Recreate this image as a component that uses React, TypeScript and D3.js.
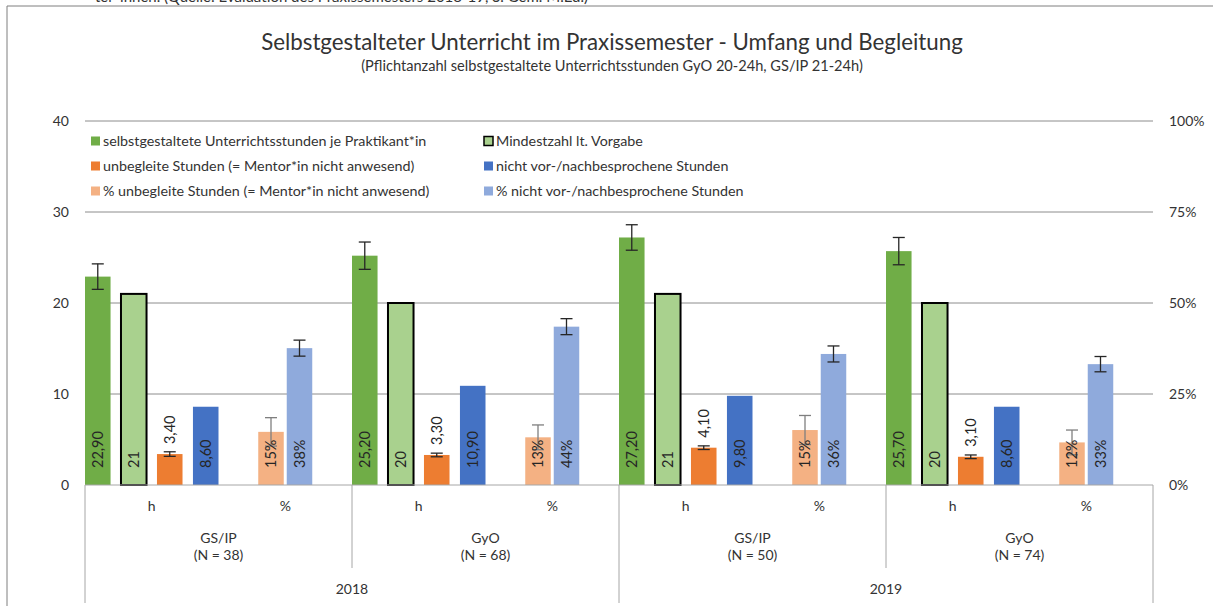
import * as d3 from 'd3';

// categories
const groups = ['GS/IP', 'GyO', 'GS/IP', 'GyO'];
const groupN = ['(N = 38)', '(N = 68)', '(N = 50)', '(N = 74)'];
const years = ['2018', '2019'];
const subCats = ['h', '%'];

// series (hours, left axis)
const stunden = [22.9, 25.2, 27.2, 25.7];
const stundenErr = [1.4, 1.5, 1.4, 1.5];
const mindestzahl = [21, 20, 21, 20];
const unbegleitet = [3.4, 3.3, 4.1, 3.1];
const unbegleitetErr = [0.25, 0.2, 0.2, 0.2];
const nichtBesprochen = [8.6, 10.9, 9.8, 8.6];

// series (share, right axis)
const unbegleitetPct = [0.146, 0.131, 0.151, 0.117];
const unbegleitetPctErr = [0.039, 0.034, 0.04, 0.034];
const nichtBesprochenPct = [0.376, 0.435, 0.36, 0.332];
const nichtBesprochenPctErr = [0.022, 0.022, 0.022, 0.021];

const leftTicks = [0, 10, 20, 30, 40];
const rightTicks = [0, 0.25, 0.5, 0.75, 1];

const legendItems = [
  { label: 'selbstgestaltete Unterrichtsstunden je Praktikant*in', color: '#70AD47', border: false },
  { label: 'Mindestzahl lt. Vorgabe', color: '#A9D18E', border: true },
  { label: 'unbegleite Stunden (= Mentor*in nicht anwesend)', color: '#ED7D31', border: false },
  { label: 'nicht vor-/nachbesprochene Stunden', color: '#4472C4', border: false },
  { label: '% unbegleite Stunden (= Mentor*in nicht anwesend)', color: '#F4B183', border: false },
  { label: '% nicht vor-/nachbesprochene Stunden', color: '#8FAADC', border: false },
];

const FONT = 'Lato, "Open Sans", sans-serif';
const TXT = '#333';
const deFmt = d3.formatLocale({ decimal: ',', thousands: '.', grouping: [3], currency: ['', ' €'] });
const fmt2 = deFmt.format('.2f');
const fmtPct = d3.format('.0%');

export default function App() {
  const width = 1213;
  const height = 606;
  const plotLeft = 85;
  const plotRight = 1153;
  const yTop = 121;
  const yBase = 485;

  const catKeys = groups.flatMap((_, i) => subCats.map((s) => `${i}-${s}`));
  const x0 = d3.scaleBand().domain(catKeys).range([plotLeft, plotRight]).padding(0);
  const cw = x0.bandwidth();
  const xh = d3.scaleBand().domain(['s', 'm', 'u', 'n']).range([0, cw]).paddingInner(0.29);
  const xp = d3.scaleBand().domain(['up', 'np']).range([cw / 2 - 27, cw / 2 + 27]).paddingInner(0.105);
  const y = d3.scaleLinear().domain([0, 40]).range([yBase, yTop]);
  const yP = d3.scaleLinear().domain([0, 1]).range([yBase, yTop]);
  const groupScale = d3.scaleBand().domain(groups.map((_, i) => String(i))).range([plotLeft, plotRight]);
  const yearScale = d3.scaleBand().domain(years).range([plotLeft, plotRight]);

  const hSeries = [
    { key: 's', values: stunden, err: stundenErr, color: '#70AD47', border: false, label: (v: number) => fmt2(v), outside: false },
    { key: 'm', values: mindestzahl, err: null, color: '#A9D18E', border: true, label: (v: number) => String(v), outside: false },
    { key: 'u', values: unbegleitet, err: unbegleitetErr, color: '#ED7D31', border: false, label: (v: number) => fmt2(v), outside: true },
    { key: 'n', values: nichtBesprochen, err: null, color: '#4472C4', border: false, label: (v: number) => fmt2(v), outside: false },
  ];
  const pSeries = [
    { key: 'up', values: unbegleitetPct, err: unbegleitetPctErr, color: '#F4B183', errColor: '#7f7f7f' },
    { key: 'np', values: nichtBesprochenPct, err: nichtBesprochenPctErr, color: '#8FAADC', errColor: '#262626' },
  ];

  const errBar = (cx: number, y1: number, y2: number, color: string, k: string) => (
    <g key={k} stroke={color} strokeWidth={1.3}>
      <line x1={cx} x2={cx} y1={y1} y2={y2} />
      <line x1={cx - 6} x2={cx + 6} y1={y1} y2={y1} />
      <line x1={cx - 6} x2={cx + 6} y1={y2} y2={y2} />
    </g>
  );

  return (
    <svg
      width={width}
      height={height}
      style={{ position: 'absolute', left: 0, top: 0, background: '#fff' }}
      fontFamily={FONT}
    >
      <text x={95} y={2} fontSize={15} fill={TXT}>
        ter*innen. (Quelle: Evaluation des Praxissemesters 2018-19, S. Gem. M.Ed.)
      </text>
      <rect x={0} y={5} width={width} height={height} fill="#fff" />
      <line x1={7} x2={width} y1={6} y2={6} stroke="#7f7f7f" />
      <line x1={7} x2={7} y1={6} y2={height} stroke="#7f7f7f" />

      <text x={612} y={50} textAnchor="middle" fontSize={22.3} fill={TXT}>
        Selbstgestalteter Unterricht im Praxissemester - Umfang und Begleitung
      </text>
      <text x={612} y={71} textAnchor="middle" fontSize={14.6} fill={TXT}>
        (Pflichtanzahl selbstgestaltete Unterrichtsstunden GyO 20-24h, GS/IP 21-24h)
      </text>

      {/* grid + axes labels */}
      {leftTicks.map((t) => (
        <g key={`g${t}`}>
          {t > 0 && <line x1={plotLeft} x2={plotRight} y1={y(t)} y2={y(t)} stroke="#8c8c8c" />}
          <text x={69} y={y(t)} dy="0.35em" textAnchor="end" fontSize={14} fill={TXT}>
            {t}
          </text>
        </g>
      ))}
      {rightTicks.map((t) => (
        <text key={`r${t}`} x={1169} y={yP(t)} dy="0.35em" fontSize={14} fill={TXT}>
          {fmtPct(t)}
        </text>
      ))}

      {/* legend */}
      {legendItems.map((d, i) => {
        const col = i % 2;
        const row = Math.floor(i / 2);
        const mx = col === 0 ? 91 : 484;
        const cy = 141 + row * 25;
        return (
          <g key={d.label}>
            <rect
              x={mx}
              y={cy - 4.5}
              width={9}
              height={9}
              fill={d.color}
              stroke={d.border ? '#000' : 'none'}
              strokeWidth={d.border ? 1.5 : 0}
            />
            <text x={mx + 12} y={cy} dy="0.35em" fontSize={14.3} fill={TXT}>
              {d.label}
            </text>
          </g>
        );
      })}

      {/* bars */}
      {groups.map((_, gi) => {
        const hx = x0(`${gi}-h`) ?? 0;
        const px = x0(`${gi}-%`) ?? 0;
        return (
          <g key={`grp${gi}`}>
            {hSeries.map((s) => {
              const v = s.values[gi];
              const bx = hx + (xh(s.key) ?? 0);
              const bw = xh.bandwidth();
              const cx = bx + bw / 2;
              const top = y(v);
              const labelY = s.outside ? top - 10 : yBase - 17;
              return (
                <g key={s.key}>
                  <rect
                    x={bx}
                    y={top}
                    width={bw}
                    height={yBase - top}
                    fill={s.color}
                    stroke={s.border ? '#000' : 'none'}
                    strokeWidth={s.border ? 2 : 0}
                  />
                  {s.err && errBar(cx, y(v + s.err[gi]), y(v - s.err[gi]), '#262626', 'e')}
                  <text
                    transform={`translate(${cx},${labelY}) rotate(-90)`}
                    dy="0.35em"
                    fontSize={14.5}
                    fill="#262626"
                  >
                    {s.label(v)}
                  </text>
                </g>
              );
            })}
            {pSeries.map((s) => {
              const v = s.values[gi];
              const bx = px + (xp(s.key) ?? 0);
              const bw = xp.bandwidth();
              const cx = bx + bw / 2;
              const top = yP(v);
              return (
                <g key={s.key}>
                  <rect x={bx} y={top} width={bw} height={yBase - top} fill={s.color} />
                  {errBar(cx, yP(v + s.err[gi]), yP(v - s.err[gi]), s.errColor, 'e')}
                  <text
                    transform={`translate(${cx},${yBase - 17}) rotate(-90)`}
                    dy="0.35em"
                    fontSize={14.5}
                    fill="#262626"
                  >
                    {fmtPct(v)}
                  </text>
                </g>
              );
            })}
          </g>
        );
      })}

      {/* category axis */}
      <line x1={plotLeft} x2={plotRight} y1={yBase} y2={yBase} stroke="#a6a6a6" />
      {catKeys.map((k) => (
        <text
          key={`c${k}`}
          x={(x0(k) ?? 0) + cw / 2}
          y={506}
          dy="0.35em"
          textAnchor="middle"
          fontSize={14}
          fill={TXT}
        >
          {k.split('-')[1]}
        </text>
      ))}
      {groups.map((g, i) => {
        const gx = groupScale(String(i)) ?? 0;
        const gw = groupScale.bandwidth();
        return (
          <g key={`gl${i}`}>
            <text x={gx + gw / 2} y={538} dy="0.35em" textAnchor="middle" fontSize={14} fill={TXT}>
              {g}
            </text>
            <text x={gx + gw / 2} y={555} dy="0.35em" textAnchor="middle" fontSize={14} fill={TXT}>
              {groupN[i]}
            </text>
            {i % 2 === 1 && (
              <line x1={gx} x2={gx} y1={yBase} y2={568} stroke="#a6a6a6" />
            )}
          </g>
        );
      })}
      {years.map((yr) => {
        const yx = yearScale(yr) ?? 0;
        const yw = yearScale.bandwidth();
        return (
          <g key={yr}>
            <line x1={yx} x2={yx} y1={yBase} y2={603} stroke="#a6a6a6" />
            <text x={yx + yw / 2} y={589} dy="0.35em" textAnchor="middle" fontSize={14} fill={TXT}>
              {yr}
            </text>
          </g>
        );
      })}
      <line x1={plotRight} x2={plotRight} y1={yBase} y2={603} stroke="#a6a6a6" />
    </svg>
  );
}
